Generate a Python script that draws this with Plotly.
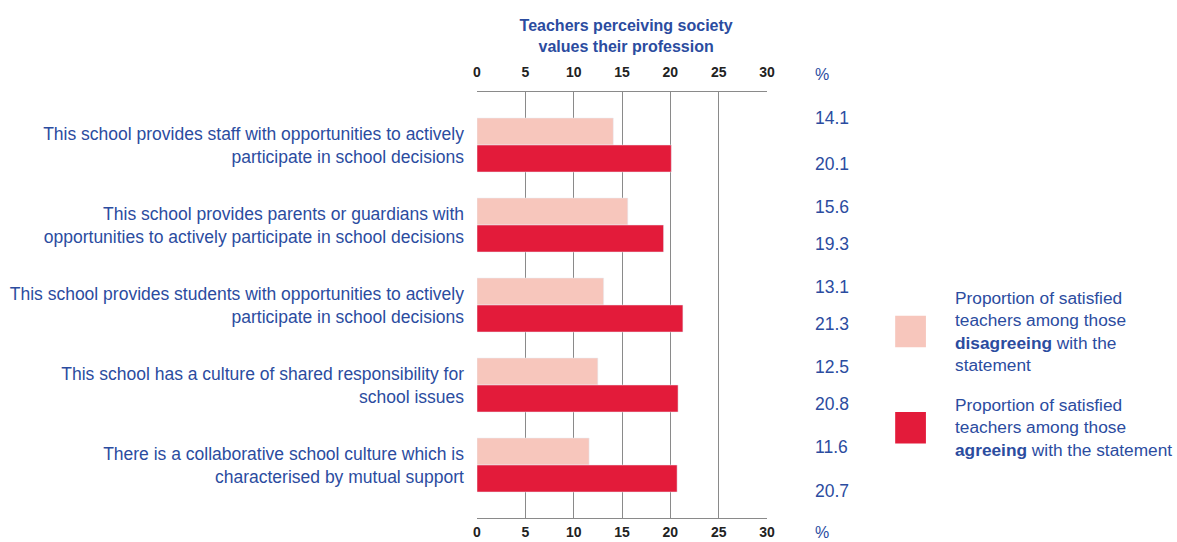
import plotly.graph_objects as go

categories = [
    "This school provides staff with opportunities to actively<br>participate in school decisions",
    "This school provides parents or guardians with<br>opportunities to actively participate in school decisions",
    "This school provides students with opportunities to actively<br>participate in school decisions",
    "This school has a culture of shared responsibility for<br>school issues",
    "There is a collaborative school culture which is<br>characterised by mutual support",
]
disagreeing = [14.1, 15.6, 13.1, 12.5, 11.6]
agreeing = [20.1, 19.3, 21.3, 20.8, 20.7]
x_ticks = [0, 5, 10, 15, 20, 25, 30]

BLUE = "#2b4c9f"
LIGHT = "#f7c6bc"
DARK = "#e31b3a"
GRID = "#8a8a8a"
FONT = "Liberation Sans, Arial, sans-serif"

fig = go.Figure()
fig.add_trace(go.Bar(y=categories, x=disagreeing, orientation="h",
                     marker_color=LIGHT, name="disagreeing"))
fig.add_trace(go.Bar(y=categories, x=agreeing, orientation="h",
                     marker_color=DARK, name="agreeing"))
# invisible trace so the bottom axis gets drawn too
fig.add_trace(go.Scatter(x=[0, 30], y=[categories[0], categories[0]], xaxis="x2",
                         mode="markers", marker_opacity=0, hoverinfo="skip",
                         showlegend=False))

# value labels on the right
for i, cat in enumerate(categories):
    fig.add_annotation(x=1.159, xref="paper", xanchor="left", y=cat, yref="y",
                       yanchor="middle", yshift=27 if i == 0 else 18,
                       text=f"{disagreeing[i]:.1f}", showarrow=False,
                       font=dict(color=BLUE, size=17.5))
    fig.add_annotation(x=1.159, xref="paper", xanchor="left", y=cat, yref="y",
                       yanchor="middle", yshift=-26 if i == 4 else -19,
                       text=f"{agreeing[i]:.1f}", showarrow=False,
                       font=dict(color=BLUE, size=17.5))

# % signs next to both axes
for yy in (1.04, -0.035):
    fig.add_annotation(x=1.16, xref="paper", xanchor="left", y=yy, yref="paper",
                       yanchor="middle", text="%", showarrow=False,
                       font=dict(color=BLUE, size=16))

# custom legend
legend_items = [
    (LIGHT, "Proportion of satisfied<br>teachers among those<br><b>disagreeing</b> with the<br>statement", 0.438),
    (DARK, "Proportion of satisfied<br>teachers among those<br><b>agreeing</b> with the statement", 0.212),
]
for color, text, yc in legend_items:
    fig.add_shape(type="rect", xref="paper", yref="paper",
                  x0=1.442, x1=1.548, y0=yc - 0.037, y1=yc + 0.037,
                  fillcolor=color, line_width=0)
    fig.add_annotation(x=1.64, xref="paper", xanchor="left", y=yc, yref="paper",
                       yanchor="middle", align="left", text=text, showarrow=False,
                       font=dict(color=BLUE, size=17.3))

fig.update_layout(
    title=dict(text="<b>Teachers perceiving society<br>values their profession</b>",
               x=0.532, xanchor="center", y=0.942, yanchor="top",
               font=dict(color=BLUE, size=16, family=FONT)),
    width=1177, height=542,
    margin=dict(l=477, r=410, t=92, b=24, autoexpand=False),
    barmode="group", bargap=0.325, bargroupgap=0,
    showlegend=False,
    plot_bgcolor="white", paper_bgcolor="white",
    font=dict(family=FONT, color=BLUE, size=16),
    xaxis=dict(side="top", range=[0, 30], tickvals=x_ticks, showgrid=True,
               gridcolor=GRID, gridwidth=1.2, showline=True, linecolor=GRID,
               linewidth=1.2, mirror=True, zeroline=False, automargin=False,
               tickfont=dict(color="#222", size=14, weight="bold"),
               ticks="", ticklabelstandoff=8, fixedrange=True),
    xaxis2=dict(overlaying="x", side="bottom", range=[0, 30], tickvals=x_ticks,
                showgrid=False, zeroline=False, showline=False, automargin=False,
                tickfont=dict(color="#222", size=14, weight="bold"),
                ticks="", ticklabelstandoff=4),
    yaxis=dict(range=[4.6625, -0.6625], showgrid=False, ticks="", automargin=False,
               tickfont=dict(color=BLUE, size=17.5), ticklabelstandoff=12),
)

# drop the default page margin so the figure fills the window exactly
fig.write_html("out.html", config={"displayModeBar": False},
               post_script="document.body.style.margin='0';")
